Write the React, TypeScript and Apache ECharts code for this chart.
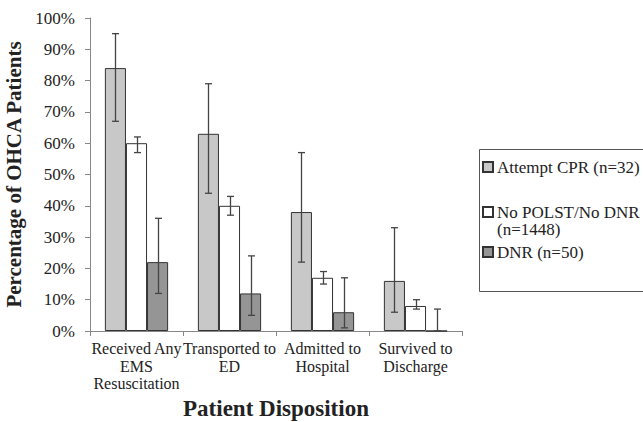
import React, { useEffect, useRef } from "react";
import * as echarts from "echarts";

const categories = [
  "Received Any\nEMS\nResuscitation",
  "Transported to\nED",
  "Admitted to\nHospital",
  "Survived to\nDischarge",
];
const seriesNames = ["Attempt CPR (n=32)", "No POLST/No DNR (n=1448)", "DNR (n=50)"];
const attemptCPR = [84, 63, 38, 16];
const attemptLow = [67, 44, 22, 6];
const attemptHigh = [95, 79, 57, 33];
const noPolst = [60, 40, 17, 8];
const noPolstLow = [57, 37, 15, 7];
const noPolstHigh = [62, 43, 19, 10];
const dnr = [22, 12, 6, 0];
const dnrLow = [12, 5, 1, 0];
const dnrHigh = [36, 24, 17, 7];
const yTicks = [0, 10, 20, 30, 40, 50, 60, 70, 80, 90, 100];

const colors = ["#c8c8c8", "#ffffff", "#959595"];
const GAP = 0.32;
const FONT = "Liberation Serif";

export default function App() {
  const ref = useRef<HTMLDivElement>(null);
  useEffect(() => {
    if (!ref.current) return;
    const chart = echarts.init(ref.current, null, { renderer: "svg" });
    const values = [attemptCPR, noPolst, dnr];
    const lows = [attemptLow, noPolstLow, dnrLow];
    const highs = [attemptHigh, noPolstHigh, dnrHigh];
    const errData: number[][] = [];
    for (let s = 0; s < 3; s++) {
      for (let c = 0; c < categories.length; c++) {
        errData.push([c, lows[s][c], highs[s][c], s]);
      }
    }
    chart.setOption({
      animation: false,
      textStyle: { fontFamily: FONT, color: "#222" },
      grid: { left: 90, right: 181, top: 18, bottom: 91, containLabel: false, outerBoundsMode: "none" },
      legend: seriesNames.map((n, i) => ({
        data: [n],
        orient: "vertical",
        left: 482,
        top: [158, 203, 243][i],
        padding: 0,
        itemWidth: 10,
        itemHeight: 10,
        itemGap: 0,
        icon: "rect",
        textStyle: { fontFamily: FONT, fontSize: 17, color: "#222", lineHeight: 18, padding: [0, 0, 0, -1] },
        formatter: (name: string) => name.replace(" (n=1448)", ""),
      })),
      graphic: [
        {
          type: "rect",
          left: 477,
          top: 147,
          shape: { width: 180, height: 142 },
          style: { fill: "none", stroke: "#555", lineWidth: 1 },
          z: -1,
        },
        {
          type: "text",
          left: 497,
          top: 221,
          style: { text: "(n=1448)", fontFamily: FONT, fontSize: 17, fill: "#222" },
        },
      ],
      xAxis: {
        type: "category",
        data: categories,
        name: "Patient Disposition",
        nameLocation: "middle",
        nameGap: 64,
        nameTextStyle: { fontFamily: FONT, fontSize: 23, fontWeight: "bold", color: "#222" },
        axisLine: { lineStyle: { color: "#888" } },
        axisTick: { show: true, length: 5, lineStyle: { color: "#888" } },
        axisLabel: { fontFamily: FONT, fontSize: 16, color: "#222", lineHeight: 17.5, margin: 9, interval: 0 },
      },
      yAxis: {
        type: "value",
        min: 0,
        max: 100,
        interval: 10,
        name: "Percentage of OHCA Patients",
        nameLocation: "middle",
        nameGap: 52,
        nameTextStyle: { fontFamily: FONT, fontSize: 21, fontWeight: "bold", color: "#222" },
        axisLine: { show: true, lineStyle: { color: "#888" } },
        axisTick: { show: true, length: 5, lineStyle: { color: "#888" } },
        splitLine: { show: false },
        axisLabel: {
          fontFamily: FONT,
          fontSize: 17,
          color: "#222",
          margin: 15,
          formatter: (v: number) => (yTicks.includes(v) ? v + "%" : ""),
        },
      },
      series: [
        ...seriesNames.map((n, i) => ({
          type: "bar",
          name: n,
          data: values[i],
          barGap: "0%",
          barCategoryGap: GAP * 100 + "%",
          itemStyle: { color: colors[i], borderColor: "#333", borderWidth: 1 },
        })),
        {
          type: "custom",
          name: "err",
          data: errData,
          z: 10,
          renderItem: (params: any, api: any) => {
            const c = api.value(0);
            const s = api.value(3);
            const lowP = api.coord([c, api.value(1)]);
            const highP = api.coord([c, api.value(2)]);
            const band = api.size([1, 0])[0];
            const bw = (band * (1 - GAP)) / 3;
            const x = Math.round(lowP[0] + (s - 1) * bw) + 0.5;
            const cap = 3.5;
            const style = { stroke: "#444", lineWidth: 1.3, fill: "none" };
            return {
              type: "group",
              children: [
                { type: "line", shape: { x1: x, y1: lowP[1], x2: x, y2: highP[1] }, style },
                { type: "line", shape: { x1: x - cap, y1: lowP[1], x2: x + cap, y2: lowP[1] }, style },
                { type: "line", shape: { x1: x - cap, y1: highP[1], x2: x + cap, y2: highP[1] }, style },
              ],
            };
          },
        },
      ],
    });
    return () => chart.dispose();
  }, []);
  return (
    <div
      ref={ref}
      style={{ width: 643, height: 422, position: "absolute", left: 0, top: 0, overflow: "hidden" }}
    />
  );
}
